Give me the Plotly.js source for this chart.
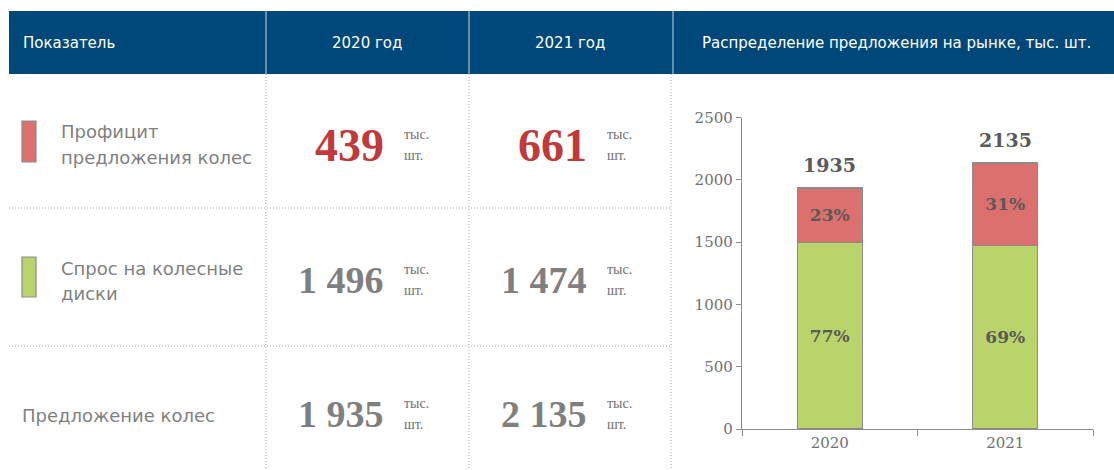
<!DOCTYPE html>
<html>
<head>
<meta charset="utf-8">
<script src="https://cdn.plot.ly/plotly-3.0.1.min.js"></script>
<style>
html,body{margin:0;padding:0;background:#fff;}
#chart{width:1114px;height:470px;}
</style>
</head>
<body>
<div id="chart"></div>
<script>
// ---- data ----
const years = ['2020', '2021'];
const demand = [1496, 1474];          // Спрос на колесные диски
const surplus = [439, 661];           // Профицит предложения колес
const supply = [1935, 2135];          // Предложение колес
const demandPct = ['77%', '69%'];
const surplusPct = ['23%', '31%'];
const headers = ['Показатель', '2020 год', '2021 год', 'Распределение предложения на рынке, тыс. шт.'];
const rowLabelSurplus = ['Профицит', 'предложения колес'];
const rowLabelDemand = ['Спрос на колесные', 'диски'];
const rowLabelSupply = ['Предложение колес'];
const unitTop = 'тыс.';
const unitBottom = 'шт.';

// ---- helpers ----
const W = 1114, H = 470;
const px = x => x / W;
const py = y => 1 - y / H;
const fmt = n => String(n).replace(/\B(?=(\d{3})+(?!\d))/g, ' ');

const GRAY = '#7f7f7f';
const DARK = '#595959';
const RED_NUM = '#c0393b';
const HEADER_BG = '#00477a';
const RED_BAR = '#dc706e';
const GREEN_BAR = '#bad46b';

const shapes = [];
const annotations = [];

// header band
shapes.push({type:'rect', xref:'paper', yref:'paper', x0:px(9), x1:px(1114), y0:py(74), y1:py(11),
  fillcolor:HEADER_BG, line:{width:0}, layer:'below'});
[266, 469, 673].forEach(x => shapes.push({type:'line', xref:'paper', yref:'paper',
  x0:px(x), x1:px(x), y0:py(74), y1:py(11), line:{color:'#c9d6e3', width:1}}));

// dotted grid of the table
[266, 469, 671].forEach(x => shapes.push({type:'line', xref:'paper', yref:'paper',
  x0:px(x), x1:px(x), y0:py(74), y1:py(470), line:{color:'#a6a6a6', width:1, dash:'1px,2px'}}));
[208, 346].forEach(y => shapes.push({type:'line', xref:'paper', yref:'paper',
  x0:px(9), x1:px(671), y0:py(y), y1:py(y), line:{color:'#a6a6a6', width:1, dash:'1px,2px'}}));

// legend squares
shapes.push({type:'rect', xref:'paper', yref:'paper', x0:px(22), x1:px(36), y0:py(162), y1:py(121),
  fillcolor:RED_BAR, line:{color:'#8c8c8c', width:1.2}});
shapes.push({type:'rect', xref:'paper', yref:'paper', x0:px(22), x1:px(36), y0:py(297), y1:py(257),
  fillcolor:GREEN_BAR, line:{color:'#8c8c8c', width:1.2}});

// header texts
const hFont = {family:'DejaVu Sans, Verdana, sans-serif', size:15, color:'#ffffff'};
annotations.push({xref:'paper', yref:'paper', x:px(21), y:py(43), xanchor:'left', yanchor:'middle',
  text:headers[0], showarrow:false, font:hFont});
annotations.push({xref:'paper', yref:'paper', x:px(367), y:py(43), xanchor:'center', yanchor:'middle',
  text:headers[1], showarrow:false, font:hFont});
annotations.push({xref:'paper', yref:'paper', x:px(570), y:py(43), xanchor:'center', yanchor:'middle',
  text:headers[2], showarrow:false, font:hFont});
annotations.push({xref:'paper', yref:'paper', x:px(896), y:py(43), xanchor:'center', yanchor:'middle',
  text:headers[3], showarrow:false, font:hFont});

// row labels
const lFont = {family:'DejaVu Sans, Verdana, sans-serif', size:18, color:GRAY};
const addLines = (lines, x, ys) => lines.forEach((t, i) => annotations.push({xref:'paper', yref:'paper',
  x:px(x), y:py(ys[i]), xanchor:'left', yanchor:'middle', text:t, showarrow:false, font:lFont}));
addLines(rowLabelSurplus, 59, [132, 158]);
addLines(rowLabelDemand, 59, [268, 293]);
addLines(rowLabelSupply, 20, [415]);

// numbers in table
const numFamily = 'Liberation Serif, Times New Roman, serif';
const rows = [
  {vals:surplus, y:145, color:RED_NUM, size:46},
  {vals:demand, y:280, color:GRAY, size:38},
  {vals:supply, y:414, color:GRAY, size:38}
];
const numRight = [386, 589];
const unitLeft = [402, 605];
rows.forEach(r => {
  r.vals.forEach((v, i) => {
    annotations.push({xref:'paper', yref:'paper', x:px(numRight[i]), y:py(r.y), xanchor:'right', yanchor:'middle',
      text:fmt(v), showarrow:false, font:{family:numFamily, size:r.size, color:r.color, weight:'bold'}});
    annotations.push({xref:'paper', yref:'paper', x:px(unitLeft[i]), y:py(r.y - 11), xanchor:'left', yanchor:'middle',
      text:unitTop, showarrow:false, font:{family:numFamily, size:14, color:'#6f6f6f'}});
    annotations.push({xref:'paper', yref:'paper', x:px(unitLeft[i]), y:py(r.y + 10), xanchor:'left', yanchor:'middle',
      text:unitBottom, showarrow:false, font:{family:numFamily, size:14, color:'#6f6f6f'}});
  });
});

// totals above bars (category index used as x position)
years.forEach((yr, i) => annotations.push({xref:'x', yref:'y', x:i, y:supply[i], yanchor:'bottom', xanchor:'center',
  yshift:10, text:String(supply[i]), showarrow:false,
  font:{family:'DejaVu Serif, serif', size:19, color:DARK, weight:'bold'}}));

const barLine = {color:'#8c8c8c', width:1.3};
const barTextFont = {family:'DejaVu Serif, serif', size:17, color:DARK, weight:'bold'};
const traces = [
  {type:'bar', x:years, y:demand, name:'Спрос на колесные диски', marker:{color:GREEN_BAR, line:barLine},
   width:[0.37, 0.37], text:demandPct, textposition:'inside', insidetextanchor:'middle',
   textfont:barTextFont, constraintext:'none', hoverinfo:'skip'},
  {type:'bar', x:years, y:surplus, name:'Профицит предложения колес', marker:{color:RED_BAR, line:barLine},
   width:[0.37, 0.37], text:surplusPct, textposition:'inside', insidetextanchor:'middle',
   textfont:barTextFont, constraintext:'none', hoverinfo:'skip'}
];

const tickFont = {family:'DejaVu Serif, serif', size:15, color:'#6f6f6f'};
const layout = {
  width:W, height:H,
  margin:{l:0, r:0, t:0, b:0, pad:0},
  paper_bgcolor:'#ffffff', plot_bgcolor:'#ffffff',
  barmode:'stack', showlegend:false,
  xaxis:{domain:[px(742), px(1093)], type:'category', range:[-0.5, 1.5],
    showline:true, linecolor:'#8c8c8c', linewidth:1.2, ticks:'outside', tickson:'boundaries',
    ticklen:6, tickcolor:'#8c8c8c', tickfont:tickFont, showgrid:false, zeroline:false, fixedrange:true},
  yaxis:{domain:[py(429), py(117.5)], range:[0, 2500], dtick:500, tick0:0,
    showline:true, linecolor:'#8c8c8c', linewidth:1.2, ticks:'outside', ticklen:5, tickcolor:'#8c8c8c',
    tickfont:tickFont, showgrid:false, zeroline:false, fixedrange:true},
  shapes:shapes, annotations:annotations
};

Plotly.newPlot('chart', traces, layout, {displayModeBar:false, staticPlot:true});
</script>
</body>
</html>
